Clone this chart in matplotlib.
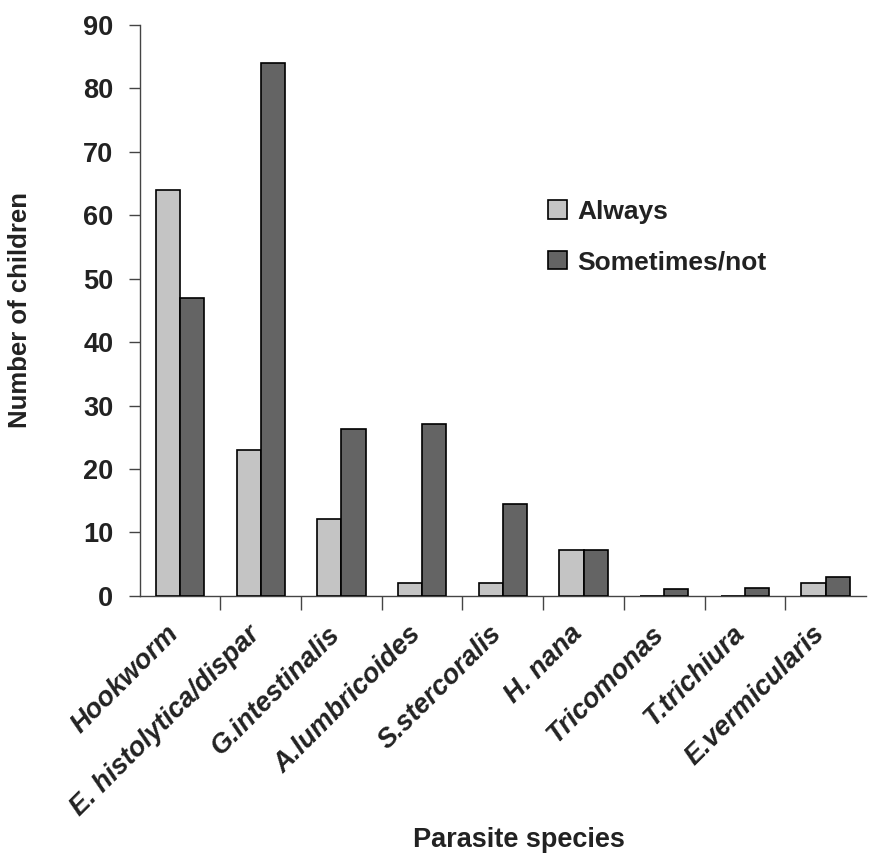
import matplotlib
matplotlib.use("Agg")
import matplotlib.pyplot as plt
import matplotlib.transforms as mtransforms
import numpy as np

categories = ["Hookworm", "E. histolytica/dispar", "G.intestinalis", "A.lumbricoides",
              "S.stercoralis", "H. nana", "Tricomonas", "T.trichiura", "E.vermicularis"]
always = [64, 23, 12.2, 2, 2, 7.2, 0, 0, 2]
sometimes = [47, 84, 26.3, 27.1, 14.5, 7.2, 1.1, 1.2, 3]
series_names = ["Always", "Sometimes/not"]
yticks = [0, 10, 20, 30, 40, 50, 60, 70, 80, 90]

plt.rcParams['font.family'] = ['Liberation Sans', 'DejaVu Sans']
FS = 19.5

fig = plt.figure(figsize=(8.73, 8.55), dpi=100)
ax = fig.add_axes([0.160, 0.303, 0.832, 0.668])

x = np.arange(len(categories))
w = 0.3
ax.bar(x - w / 2, always, width=w, color="#c4c4c4", edgecolor="black", linewidth=1.2,
       label=series_names[0], zorder=3)
ax.bar(x + w / 2, sometimes, width=w, color="#646464", edgecolor="black", linewidth=1.2,
       label=series_names[1], zorder=3)

ax.set_xlim(-0.5, len(categories) - 0.5)
ax.set_ylim(0, 90)
ax.set_yticks(yticks)
ax.set_yticklabels([str(t) for t in yticks], fontsize=FS, fontweight="bold", color="#222222")

ax.set_xticks(x)
ax.set_xticklabels(categories, rotation=45, ha="right", va="top", rotation_mode="anchor",
                   fontsize=FS, fontweight="bold", fontstyle="italic", color="#222222")
ax.tick_params(axis="x", which="major", length=0, pad=18)
offset = mtransforms.ScaledTranslation(-14 / 100, 0, fig.dpi_scale_trans)
for lbl in ax.get_xticklabels():
    lbl.set_transform(lbl.get_transform() + offset)
ax.set_xticks(np.arange(0.5, len(categories) - 1, 1.0), minor=True)
ax.tick_params(axis="x", which="minor", length=10, width=1, color="#444444")
ax.tick_params(axis="y", length=8, width=1, color="#444444", pad=11)

for s in ["top", "right"]:
    ax.spines[s].set_visible(False)
for s in ["left", "bottom"]:
    ax.spines[s].set_color("#444444")
    ax.spines[s].set_linewidth(1)

ax.set_ylabel("Number of children", fontsize=18.5, fontweight="bold", color="#222222")
ax.yaxis.set_label_coords(-0.148, 0.5)
ax.set_xlabel("Parasite species", fontsize=FS, fontweight="bold", color="#222222")
ax.xaxis.set_label_coords(0.522, -0.404)

leg = ax.legend(loc="upper left", bbox_to_anchor=(0.53, 0.735), frameon=False,
                prop={"size": FS - 0.5, "weight": "bold"}, handlelength=0.7, handleheight=0.7,
                handletextpad=0.4, labelspacing=1.0)
for t in leg.get_texts():
    t.set_color("#222222")

fig.savefig("out.png", dpi=100)
